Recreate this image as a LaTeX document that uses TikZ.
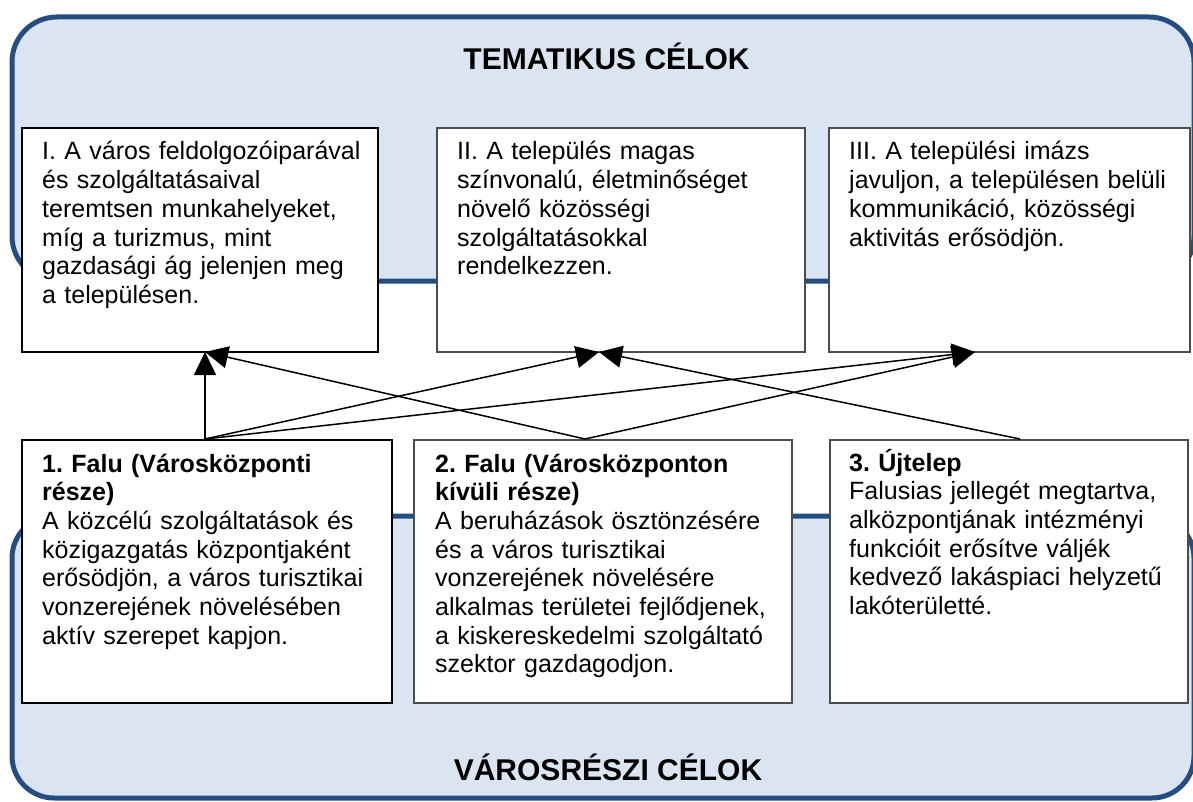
\documentclass[tikz,border=0pt]{standalone}
\usepackage{fontspec}
\setmainfont{Liberation Sans}
\usetikzlibrary{arrows.meta}
\definecolor{panelfill}{RGB}{219,229,241}
\definecolor{paneldraw}{RGB}{36,78,130}
\frenchspacing
\begin{document}
\begin{tikzpicture}[x=1pt,y=-1pt,
  panel/.style={draw=paneldraw, line width=5pt, fill=panelfill, rounded corners=45pt},
  boxA/.style={draw=black, line width=2pt, fill=white, inner sep=0pt, outer sep=0pt},
  boxB/.style={draw=black!70, line width=1.5pt, fill=white, inner sep=0pt, outer sep=0pt},
  txt/.style={anchor=base west, inner sep=0pt, text width=365pt, align=left, font=\fontsize{25}{28.7}\selectfont},
  ttl/.style={anchor=base, inner sep=0pt, font=\fontsize{30}{36}\selectfont\bfseries},
  arr/.style={line width=1.5pt, -{Triangle[length=23pt,width=22pt]}}]
\useasboundingbox (0,0) rectangle (1193,802);
\begin{scope}
  \clip (0,0) rectangle (1193,802);
  \draw[panel] (12,17) rectangle (1194,281);
  \draw[panel, rounded corners=42pt] (12,516) rectangle (1194,798);
\end{scope}
\node[ttl] (t1) at (606.5,70) {TEMATIKUS CÉLOK};
\node[ttl] (t2) at (608,780) {VÁROSRÉSZI CÉLOK};
% top boxes
\node[boxA, minimum width=356, minimum height=224] (I) at (200,240) {};
\node[boxB, minimum width=368, minimum height=224] (II) at (621,240) {};
\node[boxB, minimum width=361, minimum height=224] (III) at (1009.5,240) {};
% bottom boxes
\node[boxA, minimum width=370, minimum height=263] (B1) at (207,571.5) {};
\node[boxB, minimum width=378, minimum height=263] (B2) at (603,571.5) {};
\node[boxB, minimum width=358, minimum height=263] (B3) at (1009,571.5) {};
% texts
\node[txt] (xI) at (42,160) {I. A város feldolgozóiparával\\ és szolgáltatásaival\\ teremtsen munkahelyeket,\\ míg a turizmus, mint\\ gazdasági ág jelenjen meg\\ a településen.};
\node[txt] (xII) at (457,160) {II. A település magas\\ színvonalú, életminőséget\\ növelő közösségi\\ szolgáltatásokkal\\ rendelkezzen.};
\node[txt] (xIII) at (849,160) {III. A települési imázs\\ javuljon, a településen belüli\\ kommunikáció, közösségi\\ aktivitás erősödjön.};
\node[txt] (x1) at (42,472) {\textbf{1. Falu (Városközponti}\\ \textbf{része)}\\ A közcélú szolgáltatások és\\ közigazgatás központjaként\\ erősödjön, a város turisztikai\\ vonzerejének növelésében\\ aktív szerepet kapjon.};
\node[txt] (x2) at (435,472) {\textbf{2. Falu (Városközponton}\\ \textbf{kívüli része)}\\ A beruházások ösztönzésére\\ és a város turisztikai\\ vonzerejének növelésére\\ alkalmas területei fejlődjenek,\\ a kiskereskedelmi szolgáltató\\ szektor gazdagodjon.};
\node[txt] (x3) at (849,471) {\textbf{3. Újtelep}\\ Falusias jellegét megtartva,\\ alközpontjának intézményi\\ funkcióit erősítve váljék\\ kedvező lakáspiaci helyzetű\\ lakóterületté.};
% connector end points
\coordinate (s1) at (205,439);
\coordinate (s2) at (585,439);
\coordinate (s3) at (1020,439);
\coordinate (eI) at (205,352);
\coordinate (eII) at (599,352);
\coordinate (eIII) at (975,352);
\draw[arr] (s1) -- (eI);
\draw[arr] (s1) -- (eII);
\draw[arr] (s1) -- (eIII);
\draw[arr] (s2) -- (eI);
\draw[arr] (s2) -- (eIII);
\draw[arr] (s3) -- (eII);
\end{tikzpicture}
\end{document}
